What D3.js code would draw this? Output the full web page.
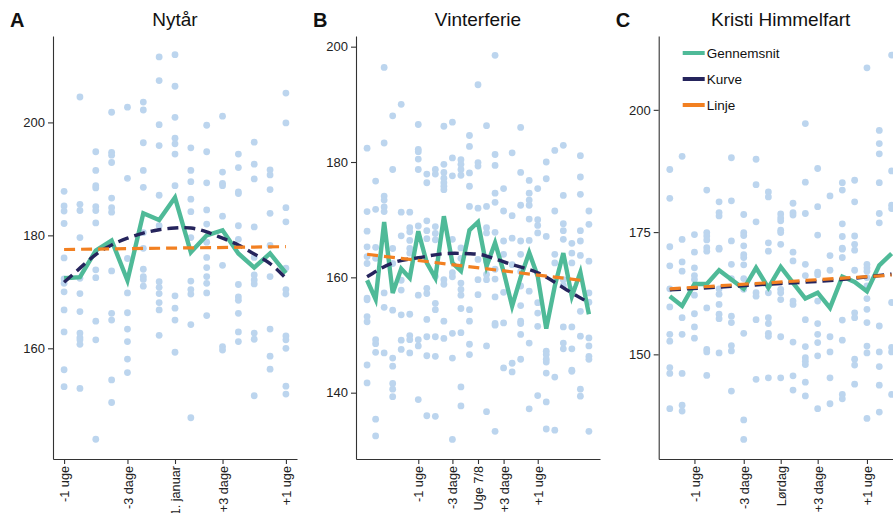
<!DOCTYPE html>
<html lang="da">
<head>
<meta charset="UTF-8">
<title>Helligdage</title>
<script src="https://d3js.org/d3.v7.min.js"></script>
<style>
  html, body { margin: 0; padding: 0; background: #fff; }
  svg { display: block; font-family: "Liberation Sans", Arial, sans-serif; }
  .axis path, .axis line { stroke: #333; stroke-width: 1.1; }
  .axis text { fill: #222; font-size: 13px; }
</style>
</head>
<body>
<svg id="chart" width="893" height="513"></svg>
<script>
// ---- data ----
var daysA = [-7, -6, -5, -4, -3, -2, -1, 0, 1, 2, 3, 4, 5, 6, 7];
var dotsA = [
  [187.8,185.2,184.3,182.1,176.0,172.3,171.5,170.0,166.8,162.9,156.2,153.2],
  [204.5,185.5,184.4,179.6,172.4,169.7,166.5,162.7,161.9,161.5,160.7,152.9],
  [194.8,191.5,188.8,188.4,185.1,184.4,182.2,173.9,172.5,164.8,161.5,143.9],
  [201.8,194.7,194.2,192.9,186.6,184.9,184.1,173.7,166.2,165.0,154.4,150.4],
  [202.7,190.1,175.9,169.8,166.3,163.4,161.2,158.1,155.7],
  [203.6,202.2,196.4,191.5,188.5,180.5,177.7,174.0,172.7,172.2,171.0],
  [211.6,207.4,199.6,195.9,187.1,181.7,171.8,170.8,169.7,168.1,166.8,162.3],
  [212.0,206.4,200.9,197.2,196.2,194.4,188.8,169.3,167.1,165.0,159.3],
  [195.5,191.5,189.5,186.4,184.2,179.6,171.9,170.4,169.6,164.2,147.7],
  [199.5,194.8,189.3,184.5,182.0,178.8,176.1,174.3,172.7,171.5,169.8,165.8],
  [201.1,191.2,189.2,188.8,183.4,174.7,160.3,159.7],
  [194.4,192.0,187.7,187.4,181.7,179.3,171.3,169.1,168.5,166.2,162.9,161.2],
  [196.5,192.6,190.0,181.5,176.1,173.0,172.1,171.4,162.7,161.6,151.6],
  [191.6,190.7,188.1,183.9,178.2,172.7,163.4,158.6,156.3],
  [205.2,199.9,184.9,182.4,174.2,170.4,169.6,162.2,161.5,160.0,153.3,151.9]
];
var meanA = [172.4,172.6,177.3,179.1,172.0,183.9,182.7,186.7,177.0,180.0,180.9,176.8,174.3,176.8,173.3];
var kurveA = [171.7,174.2,176.6,178.3,179.5,180.4,181.0,181.3,181.3,180.6,179.5,178.3,176.7,175.0,172.4];
var linjeADays = [-7, 7];
var linjeA = [177.5, 178.0];

var daysB = [-13,-12,-11,-10,-9,-8,-7,-6,-5,-4,-3,-2,-1,0,1,2,3,4,5,6,7,8,9,10,11,12,13];
var dotsB = [
  [182.4,171.4,168.0,165.3,163.6,162.4,156.4,156.1,153.2,152.3,144.8,141.7],
  [176.7,171.8,165.2,163.3,149.2,148.5,147.0,135.4,132.5],
  [196.4,183.3,174.1,173.4,172.2,171.4,157.3,154.8,146.9],
  [188.0,178.7,165.0,162.4,154.3,146.0,144.6,141.6,140.6,139.3],
  [190.0,171.3,167.2,159.5,157.8,153.5,149.1,147.5],
  [171.3,168.6,167.9,166.4,165.0,164.2,153.6,149.9,149.2,146.9],
  [186.5,182.2,181.8,180.5,178.7,168.9,156.9,149.2,148.1,138.8],
  [177.9,176.4,169.8,168.1,166.7,158.1,157.2,152.7,149.7,146.4,136.0],
  [178.7,177.9,168.8,167.6,166.5,160.2,155.5,154.4,149.7,146.3,135.9],
  [186.2,179.6,178.2,177.2,176.4,175.8,175.2,159.6,158.8,152.4,149.4],
  [186.9,180.7,177.6,166.6,160.8,160.1,150.3,146.0,131.9],
  [180.4,179.6,178.7,177.7,165.1,163.3,159.0,157.9,156.9,154.6,150.4,141.0,137.7],
  [184.6,182.7,178.1,175.8,172.3,154.4,152.4,148.4,146.6],
  [193.4,179.9,179.3,172.0,163.1,159.6,157.0],
  [186.3,172.3,168.6,167.7,162.8,160.5,159.6,148.1,136.7],
  [198.5,181.3,179.4,174.6,173.0,167.8,161.4,159.7,156.6,152.0,151.7,133.3],
  [175.4,171.5,166.3,164.0,157.4,152.1,144.3],
  [181.6,170.7,166.8,162.2,145.1,143.6],
  [186.0,178.2,172.5,166.3,164.0,161.0,158.5,155.1,152.4,152.0,150.1,145.8],
  [176.8,174.6,173.4,172.5,170.1,166.4,157.6,148.6,137.2],
  [175.4,170.0,169.0,167.7,155.6,153.8,151.5,139.5],
  [180.0,177.1,167.1,147.2,146.6,145.8,145.3,143.4,138.4,133.7],
  [182.0,171.5,164.0,162.5,142.7,133.5],
  [182.9,174.2,169.3,168.1,166.6,159.6,158.6,151.4,148.6,147.6],
  [165.9,164.2,162.5,157.9,151.4,147.6,143.9,143.7],
  [181.1,177.4,174.4,168.1,166.3,163.8,154.1,149.8,140.6,139.4],
  [171.5,169.2,162.8,157.3,155.7,149.5,148.1,146.3,145.8,133.3]
];
var meanB = [159.5,156.2,169.6,157.3,161.5,159.9,168.0,162.5,159.9,170.6,162.5,161.1,168.2,169.6,161.9,166.0,161.0,155.0,160.0,164.3,160.2,151.1,158.5,164.2,156.7,160.9,153.6];
var kurveBDays = [-13, -10, -7, -4, -1, 1, 4, 7, 10, 13];
var kurveB = [160.1, 162.5, 163.4, 164.1, 164.1, 163.7, 162.2, 160.8, 158.2, 155.6];
var linjeBDays = [-13, 12];
var linjeB = [164.0, 159.5];

var daysC = [-9,-8,-7,-6,-5,-4,-3,-2,-1,0,1,2,3,4,5,6,7,8,9];
var dotsC = [
  [187.8,181.9,172.0,168.1,163.4,159.7,154.1,152.7,147.3,146.1,138.9],
  [190.5,173.5,168.9,167.0,157.5,154.1,146.1,139.6,138.4],
  [174.5,170.9,167.7,166.1,165.3,162.1,158.3,155.6,153.3],
  [183.6,174.9,174.2,173.4,171.8,171.1,159.5,151.0,150.5,145.7],
  [181.2,179.0,178.3,171.7,171.5,163.4,162.3,160.2,158.2,157.3,150.3],
  [190.2,181.4,173.2,168.4,165.5,157.8,156.5,151.8,150.7,142.5],
  [178.6,174.9,174.3,172.2,170.4,169.8,168.3,165.5,163.3,154.3,136.6,132.6],
  [189.9,184.7,177.1,162.6,161.9,157.1,144.9],
  [183.2,182.2,172.8,171.1,162.6,157.5,156.3,154.3,153.7,145.2],
  [178.7,177.9,177.3,175.4,174.9,172.5,163.3,162.6,161.2,153.6,145.2],
  [180.9,179.0,178.5,170.9,169.1,160.9,160.2,152.5,145.6,142.7],
  [197.2,185.2,178.8,168.4,166.1,157.1,151.6,149.3,148.6,147.9,144.3,141.5],
  [188.0,180.2,174.4,166.8,166.3,160.9,156.3,154.1,152.4,149.7,138.9],
  [182.4,170.2,167.2,153.6,150.5,145.2,139.9],
  [185.1,183.6,176.7,174.1,171.7,171.5,169.8,157.0,152.9,141.8,140.9],
  [185.6,181.2,174.2,172.5,171.3,167.2,158.5,157.5,149.0,147.8,143.9],
  [208.6,168.4,167.7,167.0,165.7,164.0,161.4,159.2,156.5,151.7,150.3,136.9],
  [195.8,193.1,191.0,185.1,178.8,176.9,155.8,150.5,147.5,143.7,138.2],
  [211.2,187.5,180.5,179.8,160.6,151.4,150.5,141.8]
];
var meanC = [161.9,159.9,164.4,164.4,167.2,165.3,163.4,167.7,163.6,167.9,164.6,161.4,162.6,159.5,165.9,164.8,162.9,168.2,170.6];
var kurveCDays = [-9, -4, 0, 4, 9];
var kurveC = [163.2, 163.9, 164.5, 165.1, 166.4];
var linjeCDays = [-9, 9];
var linjeC = [163.4, 166.2];

var tickDaysA = [-7, -3, 0, 3, 7];
var tickLabelsA = ["-1 uge", "-3 dage", "1. januar", "+3 dage", "+1 uge"];
var tickDaysB = [-7, -3, 0, 3, 7];
var tickLabelsB = ["-1 uge", "-3 dage", "Uge 7/8", "+3 dage", "+1 uge"];
var tickDaysC = [-7, -3, 0, 3, 7];
var tickLabelsC = ["-1 uge", "-3 dage", "Lørdag", "+3 dage", "+1 uge"];

var seriesNames = ["Gennemsnit", "Kurve", "Linje"];
var seriesColors = ["#4fba98", "#25245c", "#f28021"];

// ---- layout ----
var svg = d3.select("#chart");
var plotTop = 36, plotBottom = 459;

var panels = [
  { letter: "A", title: "Nytår", left: 53, right: 297, xDom: [-7.7, 7.7], yDom: [140.4, 215.3],
    yTicks: [160, 180, 200], days: daysA, dots: dotsA, mean: meanA,
    kurveDays: daysA, kurve: kurveA, linjeDays: linjeADays, linje: linjeA,
    tickDays: tickDaysA, tickLabels: tickLabelsA },
  { letter: "B", title: "Vinterferie", left: 356, right: 600, xDom: [-14.3, 14.3], yDom: [128.5, 201.85],
    yTicks: [140, 160, 180, 200], days: daysB, dots: dotsB, mean: meanB,
    kurveDays: kurveBDays, kurve: kurveB, linjeDays: linjeBDays, linje: linjeB,
    tickDays: tickDaysB, tickLabels: tickLabelsB },
  { letter: "C", title: "Kristi Himmelfart", left: 658.7, right: 902.7, xDom: [-9.9, 9.9], yDom: [128.6, 215.1],
    yTicks: [150, 175, 200], days: daysC, dots: dotsC, mean: meanC,
    kurveDays: kurveCDays, kurve: kurveC, linjeDays: linjeCDays, linje: linjeC,
    tickDays: tickDaysC, tickLabels: tickLabelsC, legend: true }
];

panels.forEach(function (p) {
  var x = d3.scaleLinear().domain(p.xDom).range([p.left, p.right]);
  var y = d3.scaleLinear().domain(p.yDom).range([plotBottom, plotTop]);
  var g = svg.append("g");

  // points
  var pts = [];
  p.dots.forEach(function (col, i) {
    col.forEach(function (v) { pts.push({ d: p.days[i], v: v }); });
  });
  g.selectAll("circle").data(pts).enter().append("circle")
    .attr("cx", function (d) { return x(d.d); })
    .attr("cy", function (d) { return y(d.v); })
    .attr("r", 3.4)
    .attr("fill", "#bcd5ee");

  var line = d3.line().x(function (d) { return x(d[0]); }).y(function (d) { return y(d[1]); });

  g.append("path")
    .datum(d3.zip(p.days, p.mean))
    .attr("d", line)
    .attr("fill", "none")
    .attr("stroke", seriesColors[0])
    .attr("stroke-width", 4.4)
    .attr("stroke-linejoin", "miter");

  g.append("path")
    .datum(d3.zip(p.kurveDays, p.kurve))
    .attr("d", line.curve(d3.curveNatural))
    .attr("fill", "none")
    .attr("stroke", seriesColors[1])
    .attr("stroke-width", 3.4)
    .attr("stroke-dasharray", "11,6");
  line.curve(d3.curveLinear);

  g.append("path")
    .datum(d3.zip(p.linjeDays, p.linje))
    .attr("d", line)
    .attr("fill", "none")
    .attr("stroke", seriesColors[2])
    .attr("stroke-width", 3.2)
    .attr("stroke-dasharray", "11,6");

  // axes
  g.append("g").attr("class", "axis")
    .attr("transform", "translate(" + p.left + ",0)")
    .call(d3.axisLeft(y).tickValues(p.yTicks).tickSize(5).tickSizeOuter(0).tickPadding(3));

  var xa = g.append("g").attr("class", "axis")
    .attr("transform", "translate(0," + plotBottom + ")")
    .call(d3.axisBottom(x).tickValues(p.tickDays).tickSize(5).tickSizeOuter(0)
      .tickFormat(function (d, i) { return p.tickLabels[i]; }));
  xa.selectAll("text")
    .attr("transform", "rotate(-90)")
    .attr("text-anchor", "end")
    .attr("x", -7)
    .attr("y", 0)
    .attr("dy", "0.36em")
    .style("font-size", "12.7px");

  // titles
  svg.append("text")
    .attr("x", (p.left + p.right) / 2).attr("y", 26)
    .attr("text-anchor", "middle")
    .attr("font-size", 19).attr("fill", "#111")
    .text(p.title);
  svg.append("text")
    .attr("x", p.left - 43).attr("y", 27)
    .attr("font-size", 20).attr("font-weight", "bold").attr("fill", "#111")
    .text(p.letter);

  if (p.legend) {
    var lg = svg.append("g").attr("transform", "translate(" + (p.left + 24) + ",53)");
    seriesNames.forEach(function (name, i) {
      lg.append("line")
        .attr("x1", 0).attr("x2", 22)
        .attr("y1", i * 26).attr("y2", i * 26)
        .attr("stroke", seriesColors[i]).attr("stroke-width", 4);
      lg.append("text")
        .attr("x", 24).attr("y", i * 26).attr("dy", "0.36em")
        .attr("font-size", 13.5).attr("fill", "#111")
        .text(name);
    });
  }
});
</script>
</body>
</html>
